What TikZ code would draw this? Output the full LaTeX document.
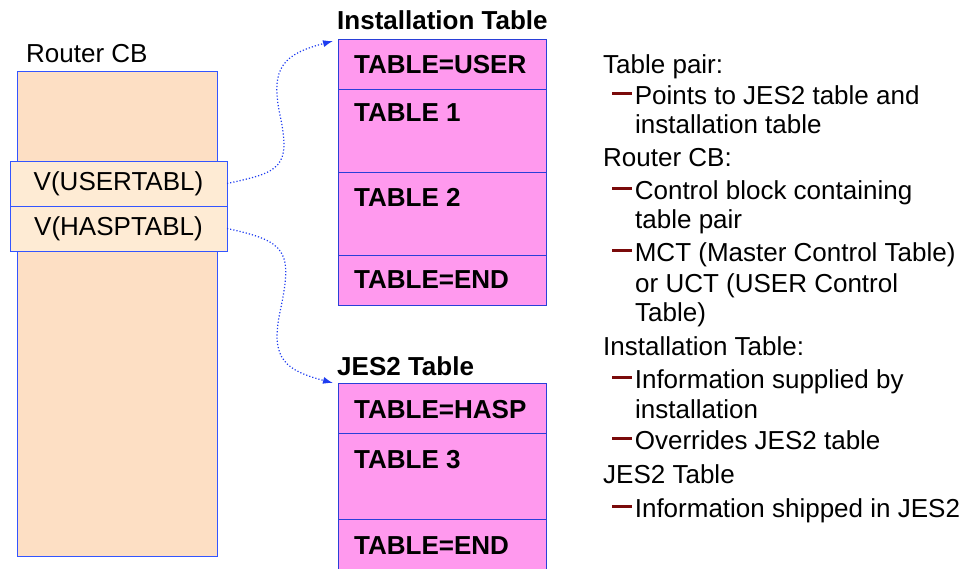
\documentclass[tikz,border=0pt]{standalone}
\usepackage{fontspec}
\setmainfont{Liberation Sans}
\usepackage{xcolor}
\usetikzlibrary{arrows.meta}

\definecolor{cbfill}{HTML}{FDDFC4}
\definecolor{vfill}{HTML}{FEEBD4}
\definecolor{tabfill}{HTML}{FF99EE}
\definecolor{edgeblue}{HTML}{3355FF}
\definecolor{rowline}{HTML}{2A3FD8}
\definecolor{arrowblue}{HTML}{1E3CF0}
\definecolor{dashred}{HTML}{7A0A0A}

\newcommand{\itemdash}{{\color{dashred}\rule[0.33em]{0.77em}{0.14em}}\kern0.1em}

\begin{document}
\begin{tikzpicture}[x=1pt, y=1pt, font=\fontsize{26}{31}\selectfont,
  box/.style={draw=edgeblue, line width=1pt, inner sep=0pt, outer sep=0pt, anchor=north west},
  cbbox/.style={box, fill=cbfill},
  vbox/.style={box, fill=vfill, minimum width=217, minimum height=45},
  tabrow/.style={box, draw=rowline, fill=tabfill, minimum width=208},
  rowtext/.style={anchor=west, inner sep=0pt, font=\fontsize{26}{31}\selectfont\bfseries},
  txt/.style={anchor=base west, inner sep=0pt},
  link/.style={arrowblue, dotted, line width=1.2pt, -{Latex[length=10pt,width=7pt]}}]
\useasboundingbox (0,0) rectangle (966,-568);

% router control block
\node[cbbox, minimum width=200, minimum height=485] (cb) at (17,-71) {};
\node[txt] (cblabel) at (26,-62) {Router CB};
\node[vbox] (usertab) at (10,-161) {V(USERTABL)};
\node[vbox] (hasptab) at (usertab.south west) {V(HASPTABL)};

% installation table
\node[txt, font=\fontsize{26}{31}\selectfont\bfseries] (insttitle) at (337,-29) {Installation Table};
\node[tabrow, minimum height=50] (iuser) at (338,-39) {};
\node[tabrow, minimum height=83] (ione) at (iuser.south west) {};
\node[tabrow, minimum height=83] (itwo) at (ione.south west) {};
\node[tabrow, minimum height=50] (iend) at (itwo.south west) {};
\node[rowtext] (iusertxt) at ([shift={(16,-26)}]iuser.north west) {TABLE=USER};
\node[rowtext] (ionetxt) at ([shift={(16,-24)}]ione.north west) {TABLE 1};
\node[rowtext] (itwotxt) at ([shift={(16,-25)}]itwo.north west) {TABLE 2};
\node[rowtext] (iendtxt) at ([shift={(16,-25)}]iend.north west) {TABLE=END};

% jes2 table
\node[txt, font=\fontsize{26}{31}\selectfont\bfseries] (jestitle) at (337,-375) {JES2 Table};
\node[tabrow, minimum height=50] (jhasp) at (338,-383) {};
\node[tabrow, minimum height=86] (jthree) at (jhasp.south west) {};
\node[tabrow, minimum height=50] (jend) at (jthree.south west) {};
\node[rowtext] (jhasptxt) at ([shift={(16,-27)}]jhasp.north west) {TABLE=HASP};
\node[rowtext] (jthreetxt) at ([shift={(16,-27)}]jthree.north west) {TABLE 3};
\node[rowtext] (jendtxt) at ([shift={(16,-27)}]jend.north west) {TABLE=END};

% pointers
\coordinate (itip) at ([shift={(-5,-2)}]iuser.north west);
\coordinate (jtip) at ([shift={(-5,0)}]jhasp.north west);
\draw[link] (usertab.east) to[out=12,in=-78,looseness=1.6] (280,-115) to[out=102,in=195,looseness=1.4] (itip);
\draw[link] (hasptab.east) to[out=-12,in=78,looseness=1.6] (280,-312) to[out=-102,in=165,looseness=1.4] (jtip);

% notes
\node[txt] (n1) at (603,-73) {Table pair:};
\node[txt] (n1a) at (612,-104) {\itemdash Points to JES2 table and};
\node[txt] (n1b) at (635,-133) {installation table};
\node[txt] (n2) at (603,-166) {Router CB:};
\node[txt] (n2a) at (612,-199) {\itemdash Control block containing};
\node[txt] (n2b) at (635,-228) {table pair};
\node[txt] (n2c) at (612,-261) {\itemdash MCT (Master Control Table)};
\node[txt] (n2d) at (635,-292) {or UCT (USER Control};
\node[txt] (n2e) at (635,-321) {Table)};
\node[txt] (n3) at (603,-355) {Installation Table:};
\node[txt] (n3a) at (612,-388) {\itemdash Information supplied by};
\node[txt] (n3b) at (635,-418) {installation};
\node[txt] (n3c) at (612,-449) {\itemdash Overrides JES2 table};
\node[txt] (n4) at (603,-483) {JES2 Table};
\node[txt] (n4a) at (612,-517) {\itemdash Information shipped in JES2};
\end{tikzpicture}
\end{document}
